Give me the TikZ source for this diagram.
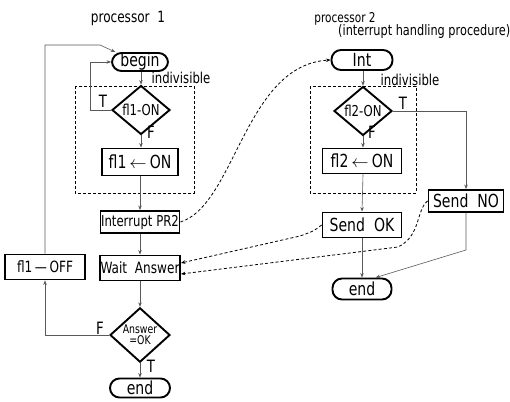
\documentclass[tikz,border=0pt]{standalone}
\usepackage{fontspec}
\setmainfont{DejaVu Sans}[FakeStretch=0.78]
\usetikzlibrary{shapes.geometric,arrows.meta}

\tikzset{
  box/.style={draw, line width=1.9pt, rectangle, inner sep=0pt,
    font=\fontsize{18}{18}\selectfont},
  term/.style={draw, line width=1.9pt, rectangle, rounded corners=9.5pt,
    inner sep=0pt, font=\fontsize{18}{18}\selectfont},
  decision/.style={draw, line width=1.9pt, diamond, inner sep=0pt,
    font=\fontsize{15}{15}\selectfont},
  flow/.style={draw=black!65, line width=0.6pt,
    -{Stealth[length=4.5pt,width=3.5pt]}},
  msg/.style={draw=black, line width=0.8pt, dash pattern=on 3pt off 2.2pt,
    -{Stealth[length=4.5pt,width=3.5pt]}},
  region/.style={draw=black, line width=0.7pt, dash pattern=on 3pt off 2pt},
  lbl/.style={font=\fontsize{17}{17}\selectfont, inner sep=0pt},
  note/.style={font=\fontsize{15}{15}\selectfont, inner sep=0pt},
}

\begin{document}
\begin{tikzpicture}[x=1pt, y=-1pt]
  \useasboundingbox (0,0) rectangle (510,401);

  % ---------------- processor 1 ----------------
  \node[lbl, font=\fontsize{15.5}{15.5}\selectfont] (title1) at (128,18) {processor\enspace 1};

  \draw[region] (75,86) rectangle (194,193);
  \node[note] (ind1) at (181,78) {indivisible};

  \node[term, minimum width=56pt, minimum height=18pt] (begin) at (140,62) {begin};
  \node[decision, minimum width=58pt, minimum height=37pt] (d1) at (141,110) {fl1-ON};
  \node[box, minimum width=76pt, minimum height=27pt] (set1) at (140,162) {fl1\,$\leftarrow$\,ON};
  \node[box, minimum width=79pt, minimum height=22pt, font=\fontsize{15}{15}\selectfont] (intr) at (140,222) {Interrupt PR2};
  \node[box, minimum width=80pt, minimum height=25pt, font=\fontsize{15.5}{15.5}\selectfont] (wait) at (140,268) {Wait\enspace Answer};
  \node[box, minimum width=80pt, minimum height=25pt, font=\fontsize{15.5}{15.5}\selectfont] (off) at (45,267) {fl1\,---\,OFF};
  \node[decision, minimum width=60pt, minimum height=37pt,
        font=\fontsize{12}{11}\selectfont, align=center] (d3) at (140,335) {Answer\\=OK};
  \node[term, minimum width=60pt, minimum height=19pt] (end1) at (140,388) {end};

  \node[lbl] (t1) at (103,101) {T};
  \node[lbl] (f1) at (151,132) {F};
  \node[lbl] (f3) at (100,328) {F};
  \node[lbl] (t3) at (151,366) {T};

  \coordinate (loopT) at (90,110);
  \coordinate (loopBend) at (100,45);

  \draw[flow] (begin.south -| d1.north) -- (d1.north);
  \draw[flow] (d1.west) -- (loopT) |- (begin.west);
  \draw[flow] (d1.south) -- (d1.south |- set1.north);
  \draw[flow] (set1.south) -- (intr.north);
  \draw[flow] (intr.south) -- (wait.north);
  \draw[flow] (wait.south) -- (d3.north);
  \draw[flow] (d3.south) -- (end1.north);
  \draw[flow] (d3.west) -| (off.south);
  \draw[flow] (off.north) |- (loopBend) -- (begin.158);

  % ---------------- processor 2 ----------------
  \node[lbl, font=\fontsize{13.5}{13.5}\selectfont] (title2) at (345,19) {processor 2};
  \node[anchor=west, inner sep=0pt, font=\fontsize{14.5}{14.5}\selectfont] (sub2) at (338,32) {(interrupt handling procedure)};

  \draw[region] (310,86) rectangle (416,193);
  \node[note] (ind2) at (410,80) {indivisible};

  \node[term, minimum width=61pt, minimum height=20pt] (int) at (362,60) {Int};
  \node[decision, minimum width=58pt, minimum height=38pt] (d2) at (363,111) {fl2-ON};
  \node[box, minimum width=79pt, minimum height=25pt] (set2) at (362,161) {fl2\,$\leftarrow$\,ON};
  \node[box, minimum width=79pt, minimum height=25pt] (sendok) at (362,225) {Send\enspace OK};
  \node[box, minimum width=75pt, minimum height=22pt] (sendno) at (466,201) {Send\enspace NO};
  \node[term, minimum width=59pt, minimum height=21pt] (end2) at (362,289) {end};

  \node[lbl] (t2) at (403,103) {T};
  \node[lbl] (f2) at (372,132) {F};

  \coordinate (noBend) at (466,250);

  \draw[flow] (int.south -| d2.north) -- (d2.north);
  \draw[flow] (d2.south) -- (d2.south |- set2.north);
  \draw[flow] (set2.south -| d2.south) -- (set2.north |- sendok.north);
  \draw[flow] (sendok.south) -- (end2.north);
  \draw[flow] (d2.east) -| (sendno.north);
  \draw[flow] (sendno.south) -- (noBend) -- (end2.40);

  % ---------------- messages between processors ----------------
  \draw[msg] (intr.east) .. controls (235,205) and (245,65) .. (int.west);
  \draw[msg] (sendok.west) .. controls (314,231) .. (300,236) -- ([yshift=5pt]wait.east);
  \draw[msg] (sendno.west) .. controls (416,210) and (421,236) .. (398,247) -- ([yshift=-6pt]wait.east);
\end{tikzpicture}
\end{document}
